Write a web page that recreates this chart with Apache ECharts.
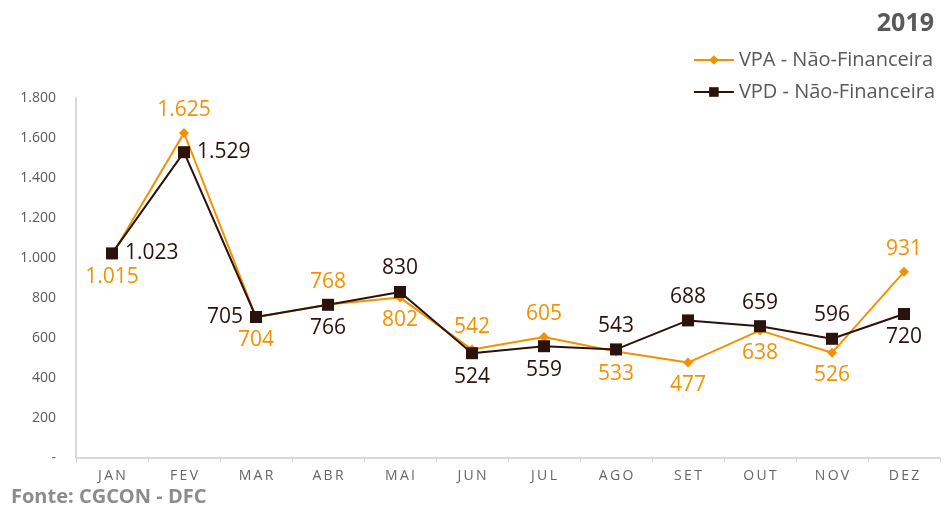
<!DOCTYPE html>
<html>
<head>
<meta charset="utf-8">
<script src="https://cdn.jsdelivr.net/npm/echarts@6/dist/echarts.min.js"></script>
<style>
  html, body { margin: 0; padding: 0; background: #fff; }
  #chart { width: 944px; height: 507px; }
</style>
</head>
<body>
<div id="chart"></div>
<script>
const months = ['JAN', 'FEV', 'MAR', 'ABR', 'MAI', 'JUN', 'JUL', 'AGO', 'SET', 'OUT', 'NOV', 'DEZ']
const vpa = [1015, 1625, 704, 768, 802, 542, 605, 533, 477, 638, 526, 931]
const vpd = [1023, 1529, 705, 766, 830, 524, 559, 543, 688, 659, 596, 720]
// onde fica o rótulo de cada ponto
const vpaPos = ['bottom', 'top', 'bottom', 'top', 'bottom', 'top', 'top', 'bottom', 'bottom', 'bottom', 'bottom', 'top']
const vpdPos = ['right', 'right', 'left', 'bottom', 'top', 'bottom', 'bottom', 'top', 'top', 'top', 'top', 'bottom']

const font = '"Open Sans", Lato, sans-serif'
const orange = '#F39200'
const dark = '#2B120C'

const fmt = (v) => v.toLocaleString('de-DE')

const buildData = (values, pos) => values.map((v, i) => ({
  value: v,
  label: { position: pos[i] }
}))

const chart = echarts.init(document.getElementById('chart'))
chart.setOption({
  animation: false,
  textStyle: { fontFamily: font },
  title: [
    {
      text: '2019', right: 5, top: 6,
      textStyle: { fontSize: 25, fontWeight: 'bold', color: '#595959', fontFamily: font }
    },
    {
      text: 'Fonte: CGCON - DFC', left: 6, top: 482,
      textStyle: { fontSize: 20, fontWeight: 'bold', color: '#8c8c8c', fontFamily: font }
    }
  ],
  legend: {
    orient: 'vertical', right: 4, top: 45, itemGap: 12,
    itemWidth: 40, itemHeight: 12,
    textStyle: { fontSize: 20, color: '#595959', fontFamily: font },
    data: ['VPA - Não-Financeira', 'VPD - Não-Financeira']
  },
  grid: { left: 76, right: 4, top: 98, bottom: 49 },
  xAxis: {
    type: 'category',
    data: months,
    axisLine: { lineStyle: { color: '#d9d9d9', width: 2 } },
    axisTick: { show: true, length: 5, lineStyle: { color: '#d9d9d9' } },
    axisLabel: {
      color: '#666', fontSize: 14, margin: 11,
      formatter: (m) => m.split('').join('\u2009')
    }
  },
  yAxis: {
    type: 'value', min: 0, max: 1800, interval: 200,
    axisLine: { show: true, lineStyle: { color: '#d9d9d9', width: 2 } },
    axisTick: { show: false },
    splitLine: { show: false },
    axisLabel: {
      color: '#595959', fontSize: 14, margin: 20,
      formatter: (v) => v === 0 ? '-' : fmt(v)
    }
  },
  series: [
    {
      name: 'VPA - Não-Financeira', type: 'line',
      data: buildData(vpa, vpaPos),
      symbol: 'diamond', symbolSize: 10,
      lineStyle: { color: orange, width: 2 },
      itemStyle: { color: orange },
      label: { show: true, color: orange, fontSize: 21, distance: 7, formatter: (p) => fmt(p.value) }
    },
    {
      name: 'VPD - Não-Financeira', type: 'line',
      data: buildData(vpd, vpdPos),
      symbol: 'rect', symbolSize: 12,
      lineStyle: { color: dark, width: 2 },
      itemStyle: { color: dark },
      label: { show: true, color: dark, fontSize: 21, distance: 7, formatter: (p) => fmt(p.value) }
    }
  ]
})
</script>
</body>
</html>
